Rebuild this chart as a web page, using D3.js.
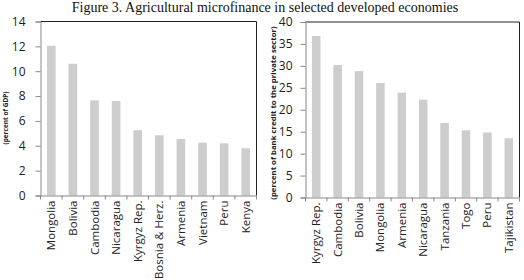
<!DOCTYPE html>
<html lang="en">
<head>
    <meta charset="UTF-8">
    <title>Agricultural microfinance</title>
    <script src="https://d3js.org/d3.v7.min.js"></script>
    <style>
        body { margin: 0; background: #fff; }
        svg { display: block; }
        .tick text { font-family: "Open Sans", sans-serif; fill: #222; }
    </style>
</head>
<body>
<script>
    // Data
    const gdpCountries = ["Mongolia", "Bolivia", "Cambodia", "Nicaragua", "Kyrgyz Rep.", "Bosnia & Herz.", "Armenia", "Vietnam", "Peru", "Kenya"];
    const gdpValues = [12.05, 10.6, 7.65, 7.6, 5.25, 4.85, 4.55, 4.25, 4.2, 3.8];
    const gdpTicks = [0, 2, 4, 6, 8, 10, 12, 14];

    const creditCountries = ["Kyrgyz Rep.", "Cambodia", "Bolivia", "Mongolia", "Armenia", "Nicaragua", "Tanzania", "Togo", "Peru", "Tajikistan"];
    const creditValues = [36.8, 30.2, 28.8, 26.1, 23.9, 22.3, 17.0, 15.3, 14.8, 13.5];
    const creditTicks = [0, 5, 10, 15, 20, 25, 30, 35, 40];

    const width = 524, height = 280;

    const svg = d3.select("body").append("svg")
        .attr("width", width)
        .attr("height", height);

    // Title
    svg.append("text")
        .attr("x", 265)
        .attr("y", 12)
        .attr("text-anchor", "middle")
        .style("font-family", "'Liberation Serif', 'Times New Roman', serif")
        .style("font-size", "14px")
        .attr("fill", "#111")
        .text("Figure 3. Agricultural microfinance in selected developed economies");

    function drawPanel(opts) {
        const g = svg.append("g");

        const x = d3.scaleBand()
            .domain(opts.categories)
            .range([opts.x0, opts.x1])
            .paddingInner(0.6)
            .paddingOuter(0.3);

        const y = d3.scaleLinear()
            .domain([0, opts.max])
            .range([opts.y1, opts.y0]);

        // frame: top and right in dark
        g.append("path")
            .attr("d", `M${opts.x0},${opts.y0}H${opts.x1}V${opts.y1}`)
            .attr("fill", "none")
            .attr("stroke", "#222")
            .attr("stroke-width", 1);

        // bars
        g.selectAll("rect.bar")
            .data(opts.values)
            .enter()
            .append("rect")
            .attr("class", "bar")
            .attr("x", (d, i) => x(opts.categories[i]))
            .attr("width", x.bandwidth())
            .attr("y", d => y(d))
            .attr("height", d => y(0) - y(d))
            .attr("fill", "#cdcdcd");

        // y axis
        const yAxis = g.append("g")
            .attr("transform", `translate(${opts.x0},0)`)
            .call(d3.axisLeft(y).tickValues(opts.ticks).tickSize(5).tickPadding(opts.tickPad));
        yAxis.selectAll("text").style("font-size", "12px");

        // x axis, ticks at band boundaries
        const xAxis = g.append("g")
            .attr("transform", `translate(0,${opts.y1})`)
            .call(d3.axisBottom(x).tickSize(0).tickPadding(5));
        xAxis.selectAll("text")
            .attr("transform", "rotate(-90)")
            .attr("x", -5)
            .attr("y", 0)
            .attr("dy", "0.35em")
            .style("text-anchor", "end")
            .style("font-size", "11.5px");

        const bounds = d3.range(opts.categories.length + 1)
            .map(i => opts.x0 + i * (opts.x1 - opts.x0) / opts.categories.length);
        g.selectAll("line.xtick")
            .data(bounds)
            .enter()
            .append("line")
            .attr("class", "xtick")
            .attr("x1", d => d).attr("x2", d => d)
            .attr("y1", opts.y1).attr("y2", opts.y1 + 4)
            .attr("stroke", "#888");

        g.selectAll(".domain").attr("stroke", "#888");
        g.selectAll(".tick line").attr("stroke", "#888");

        // axis title
        g.append("text")
            .attr("transform", `translate(${opts.labelX},${opts.labelY}) rotate(-90)`)
            .attr("text-anchor", "middle")
            .style("font-family", "'Open Sans', sans-serif")
            .style("font-weight", "bold")
            .style("font-size", opts.labelSize)
            .attr("fill", "#222")
            .text(opts.label);
    }

    drawPanel({
        categories: gdpCountries, values: gdpValues, ticks: gdpTicks, max: 14,
        x0: 40.5, x1: 256.5, y0: 21.5, y1: 195.5, tickPad: 10,
        label: "(percent of GDP)", labelX: 8, labelY: 118, labelSize: "6.5px"
    });

    drawPanel({
        categories: creditCountries, values: creditValues, ticks: creditTicks, max: 40,
        x0: 305.5, x1: 519.5, y0: 22, y1: 197.5, tickPad: 8,
        label: "(percent of bank credit to the private sector)", labelX: 276, labelY: 113, labelSize: "7.8px"
    });
</script>
</body>
</html>
